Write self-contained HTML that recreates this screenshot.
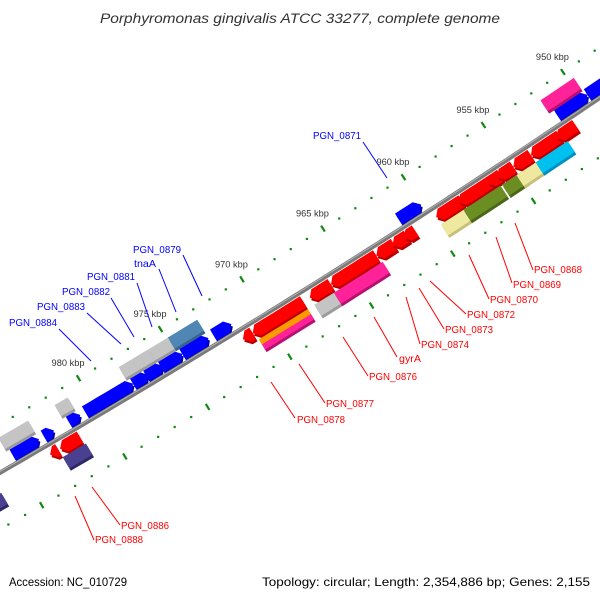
<!DOCTYPE html>
<html><head><meta charset="utf-8"><style>
html,body{margin:0;padding:0;background:#fff;}
svg{display:block;font-family:"Liberation Sans",sans-serif;}
</style></head><body>
<svg id="chart" width="600" height="600" viewBox="0 0 600 600" xmlns="http://www.w3.org/2000/svg">
<rect x="0" y="0" width="600" height="600" fill="#fff"/>
<text x="100" y="23" font-size="13.5" font-style="italic" fill="#333" textLength="400" lengthAdjust="spacingAndGlyphs">Porphyromonas gingivalis ATCC 33277, complete genome</text>
<g id="ticks"></g>
<g id="genes"></g>
<g id="backbone"></g>
<g id="labels"></g>
<text x="9" y="586" font-size="12" fill="#000" textLength="118" lengthAdjust="spacingAndGlyphs">Accession: NC_010729</text>
<text x="262" y="586" font-size="12" fill="#000" textLength="328" lengthAdjust="spacingAndGlyphs">Topology: circular; Length: 2,354,886 bp; Genes: 2,155</text>
</svg>
<script>
// ---- data ----
const majorTicks = [950, 955, 960, 965, 970, 975, 980];
const tickLabels = ["950 kbp", "955 kbp", "960 kbp", "965 kbp", "970 kbp", "975 kbp", "980 kbp"];
const minorStart = 944;
const minorEnd = 990;
const geneStart = [985.0,983.1,981.6,980.6,977.7,976.9,976.0,974.7,972.8,961.4,951.5,949.6,
                   985.2,981.8,977.9,977.1,976.1,974.9,951.8,
                   971.6,971.0,967.5,966.2,963.4,962.4,961.7,959.7,958.3,956.5,955.9,954.9,953.8,952.2,982.7,983.3,
                   970.9,970.9,967.5,966.3,959.7,958.3,955.9,955.0,953.8,982.8,988.0];
const geneEnd   = [983.4,982.5,980.9,977.7,976.8,975.9,974.7,973.1,971.7,960.0,949.6,946.5,
                   983.4,981.0,977.1,976.1,974.9,973.1,949.7,
                   971.0,967.9,966.2,963.4,962.3,961.5,961.0,958.1,956.2,955.7,954.9,953.8,952.0,951.0,981.5,982.8,
                   967.9,967.9,965.9,963.3,957.9,956.0,954.7,953.6,951.8,981.4,986.5];
const geneTrack = [1,1,1,1,1,1,1,1,1,1,1,1,
                   2,2,2,2,2,2,2,
                   -1,-1,-1,-1,-1,-1,-1,-1,-1,-1,-1,-1,-1,-1,-1,-1,
                   -2.1,-2.2,-2,-2,-2,-2,-2,-2,-2,-2,-2];
const geneColor = ["blue","blue","blue","blue","blue","blue","blue","blue","blue","blue","blue","blue",
                   "grey","grey","grey","grey","grey","steel","pink",
                   "red","red","red","red","red","red","red","red","red","red","red","red","red","red","red","red",
                   "orange","pink","grey","pink","khaki","olive","olive","khaki","sky","slate","slate"];
const labelText = ["PGN_0884","PGN_0883","PGN_0882","PGN_0881","tnaA","PGN_0879","PGN_0871",
                   "PGN_0868","PGN_0869","PGN_0870","PGN_0872","PGN_0873","PGN_0874","gyrA","PGN_0876","PGN_0877","PGN_0878","PGN_0886","PGN_0888"];
const labelStrand = [1,1,1,1,1,1,1,-1,-1,-1,-1,-1,-1,-1,-1,-1,-1,-1,-1];
const labelX = [9,37,62,87,134,133,313,534,513,490,467,445,421,399,369,326,297,121,95];
const labelY = [326,310,295,280,267,253,139,273,288,303,318,333,348,362,380,407,423,529,543];
const leaderFrom = [[59,329],[87,313],[111,298],[137,283],[159,269],[183,255],[363,142],
                    [515,223],[496,237],[469,255],[430,281],[419,288],[406,297],[374,317],[343,337],[299,364],[271,382],[92,487],[75,496]];
const leaderTo = [[91,361],[121,344],[134,337],[152,327],[176,312],[202,296],[387,178],
                  [533,270],[512,283],[489,299],[466,314],[444,329],[420,344],[397,357],[368,376],[325,403],[295,418],[120,525],[94,540]];

// ---- geometry ----
const NS = "http://www.w3.org/2000/svg";
const CX = -4912.5, CY = -8054.5, R = 9841;
const PHI0 = 59.38, DPHI = 0.1117;
function pt(kbp, d) {
  const a = (PHI0 + (kbp - 980) * DPHI) * Math.PI / 180;
  const r = R - d;
  return [CX + r * Math.cos(a), CY + r * Math.sin(a)];
}
function mk(tag, attrs, parent) {
  const el = document.createElementNS(NS, tag);
  for (const k in attrs) el.setAttribute(k, attrs[k]);
  parent.appendChild(el);
  return el;
}
const palette = {
  blue: ["#0000ff", "#0000a8"], red: ["#ff0000", "#b80000"], grey: ["#c4c4c4", "#9a9a9a"],
  steel: ["#4f86b4", "#36648c"], pink: ["#ff2299", "#b81070"], orange: ["#ff9900", "#c06800"],
  khaki: ["#eee8a0", "#c8c078"], olive: ["#6b8e23", "#4a6618"], sky: ["#00c0f0", "#0090c0"],
  slate: ["#4a4090", "#2e2868"]
};

const tg = document.getElementById("ticks");
for (let k = minorStart; k <= minorEnd; k++) {
  if (k % 5 === 0) continue;
  for (const d of [42, -49]) {
    const p = pt(k, d);
    const t = mk("rect", {x: p[0] - 1, y: p[1] - 1, width: 2.2, height: 2.2, fill: "#118811"}, tg);
    
    
  }
}
for (let k = minorStart; k <= minorEnd; k++) {
  if (k % 5 !== 0) continue;
  for (const d of [42, -49]) {
    const a = pt(k, d + 3.5), b = pt(k, d - 3.5);
    const t = mk("line", {x1: a[0], y1: a[1], x2: b[0], y2: b[1], stroke: "#118811", "stroke-width": 2.2}, tg);
    
    
  }
}
majorTicks.forEach((k, i) => {
  const p = pt(k, 42);
  const t = mk("text", {x: p[0] - 27, y: p[1] - 12, "font-size": 9, fill: "#333", textLength: 33, lengthAdjust: "spacingAndGlyphs"}, tg);
  t.textContent = tickLabels[i];
  
  
});

const gg = document.getElementById("genes");
function trackRange(tr) {
  if (tr === 1) return [3, 16];
  if (tr === 2) return [18, 31];
  if (tr === -1) return [-16, -3];
  if (tr === -2) return [-31, -18];
  if (tr === -2.1) return [-24, -18];
  return [-30, -24];
}
function arc(k1, k2, d) {
  const n = Math.max(2, Math.ceil(Math.abs(k1 - k2) * 2));
  const out = [];
  for (let i = 0; i <= n; i++) out.push(pt(k1 + (k2 - k1) * i / n, d));
  return out;
}
geneStart.forEach((s, i) => {
  const e = geneEnd[i], tr = geneTrack[i];
  const [d0, d1] = trackRange(tr);
  const col = palette[geneColor[i]];
  let pts;
  const arrow = (tr === 1 || tr === -1);
  if (arrow) {
    const len = Math.abs(s - e);
    const h = Math.min(0.3, len);
    const dm = (d0 + d1) / 2;
    if (tr === 1) {
      pts = [pt(s, d0)].concat(arc(s, e + h, d0), [pt(e, dm)], arc(e + h, s, d1));
    } else {
      pts = [pt(e, d0)].concat(arc(e, s - h, d0), [pt(s, dm)], arc(s - h, e, d1));
    }
  } else {
    pts = arc(s, e, d0).concat(arc(e, s, d1));
  }
  const str = pts.map(p => p[0].toFixed(1) + "," + p[1].toFixed(1)).join(" ");
  const g = mk("g", {}, gg);
  
  
  mk("polygon", {points: str, fill: col[1], transform: "translate(1.5,2.5)"}, g);
  mk("polygon", {points: str, fill: col[0]}, g);
});

const bg = document.getElementById("backbone");
const bb = arc(992, 944, 0).map(p => p[0].toFixed(1) + "," + p[1].toFixed(1)).join(" ");
mk("polyline", {points: bb, fill: "none", stroke: "#7a7a7a", "stroke-width": 4.5}, bg);
const bb2 = arc(992, 944, 1).map(p => p[0].toFixed(1) + "," + p[1].toFixed(1)).join(" ");
mk("polyline", {points: bb2, fill: "none", stroke: "#b0b0b0", "stroke-width": 1}, bg);

const lg = document.getElementById("labels");
labelText.forEach((t, i) => {
  const c = labelStrand[i] > 0 ? "#0000ff" : "#ff0000";
  const l = mk("line", {x1: leaderFrom[i][0], y1: leaderFrom[i][1], x2: leaderTo[i][0], y2: leaderTo[i][1], stroke: c, "stroke-width": 1}, lg);
  
  
  const w = t.length === 4 ? 22 : 48;
  const tx = mk("text", {x: labelX[i], y: labelY[i], "font-size": 10.5, fill: c, textLength: w, lengthAdjust: "spacingAndGlyphs"}, lg);
  tx.textContent = t;
  
  
});
</script>
</body></html>
